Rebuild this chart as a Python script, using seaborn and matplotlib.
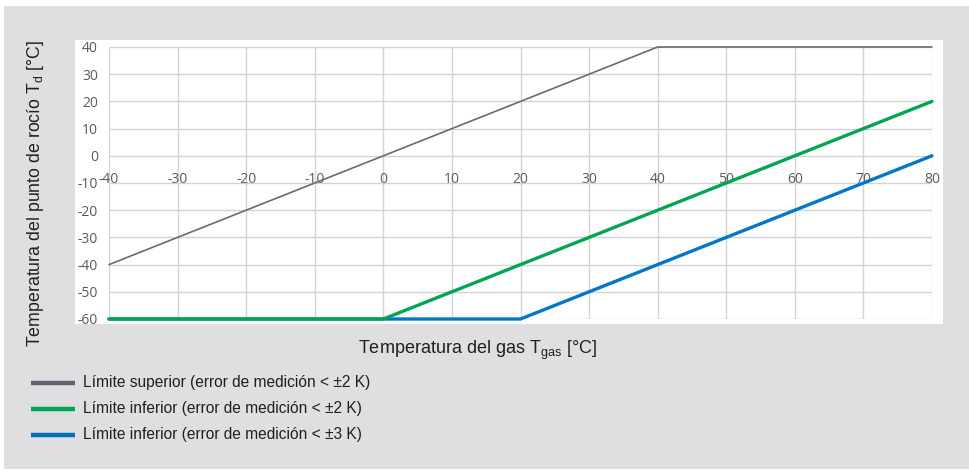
import matplotlib
matplotlib.use("Agg")
import matplotlib.pyplot as plt
import seaborn as sns
import pandas as pd
from matplotlib.patches import Rectangle
from matplotlib.lines import Line2D

# Data
x_gas = [-40, 0, 20, 40, 80]
upper_2k = [-40, 0, 20, 40, 40]
lower_2k = [-60, -60, -40, -20, 20]
lower_3k = [-60, -60, -60, -40, 0]
series_labels = [
    "Límite superior (error de medición < ±2 K)",
    "Límite inferior (error de medición < ±2 K)",
    "Límite inferior (error de medición < ±3 K)",
]
x_ticks = list(range(-40, 81, 10))
y_ticks = list(range(-60, 41, 10))

sns.set_theme(style="white")
plt.rcParams['font.family'] = ['Liberation Sans', 'DejaVu Sans']
plt.rcParams['mathtext.fontset'] = 'custom'
plt.rcParams['mathtext.rm'] = 'Liberation Sans'
plt.rcParams['mathtext.it'] = 'Liberation Sans:italic'
plt.rcParams['axes.unicode_minus'] = False

W, H = 969, 471
fig = plt.figure(figsize=(W / 100, H / 100), dpi=100)
fig.patch.set_facecolor("white")

def fx(px):
    return px / W

def fy(py):
    return 1 - py / H

# grey panel
fig.patches.append(Rectangle((fx(4), fy(469)), fx(969) - fx(4), fy(6) - fy(469),
                             transform=fig.transFigure, facecolor="#dfdfe1", edgecolor="none", zorder=0))
# white plot box
fig.patches.append(Rectangle((fx(75), fy(324)), fx(943) - fx(75), fy(40) - fy(324),
                             transform=fig.transFigure, facecolor="white", edgecolor="none", zorder=0.5))

ax = fig.add_axes([fx(109), fy(319), fx(932) - fx(109), fy(47) - fy(319)])
ax.set_zorder(2)
ax.set_facecolor("white")
ax.patch.set_alpha(0)

df = pd.DataFrame({"x": x_gas, "up2": upper_2k, "lo2": lower_2k, "lo3": lower_3k})
colors = ["#6b6b6b", "#00a651", "#0077c8"]
widths = [1.2, 2.4, 2.4]
zorders = [5, 4, 3]
for col, c, lw, z, lab in zip(["up2", "lo2", "lo3"], colors, widths, zorders, series_labels):
    sns.lineplot(data=df, x="x", y=col, ax=ax, color=c, linewidth=lw, clip_on=False,
                 label=lab, legend=False, zorder=z)

ax.set_xlim(-40, 80)
ax.set_ylim(-60, 40)
ax.set_xticks(x_ticks)
ax.set_yticks(y_ticks)
ax.grid(True, color="#d3d3d3", linewidth=1.0)
ax.set_axisbelow(True)
for s in ax.spines.values():
    s.set_visible(False)
ax.spines['bottom'].set_position(('data', 0))
ax.tick_params(axis='both', length=0, labelsize=10, labelcolor="#595959")
ax.tick_params(axis='x', pad=11.5)
ax.tick_params(axis='y', pad=8)
for t in ax.get_xticklabels() + ax.get_yticklabels():
    t.set_fontfamily(['Open Sans', 'DejaVu Sans'])
ax.set_xlabel("")
ax.set_ylabel("")

fig.text(fx(478), fy(350), r"Temperatura del gas T$_{\mathrm{gas}}$ [°C]", ha="center", va="center",
         fontsize=13, color="#231f20")
fig.text(fx(36), fy(193), r"Temperatura del punto de rocío T$_{\mathrm{d}}$ [°C]", ha="center", va="center",
         rotation=90, fontsize=12.8, color="#231f20")

leg_colors = ["#5f6270", "#00a651", "#0072bc"]
leg_y = [383, 409, 435]
for c, yy, lab in zip(leg_colors, leg_y, series_labels):
    fig.lines.append(Line2D([fx(31), fx(75)], [fy(yy), fy(yy)], transform=fig.transFigure,
                            color=c, linewidth=3.2, solid_capstyle="butt"))
    fig.text(fx(83), fy(yy), lab, ha="left", va="center", fontsize=11.2, color="#231f20")

fig.savefig("out.png", dpi=100)
